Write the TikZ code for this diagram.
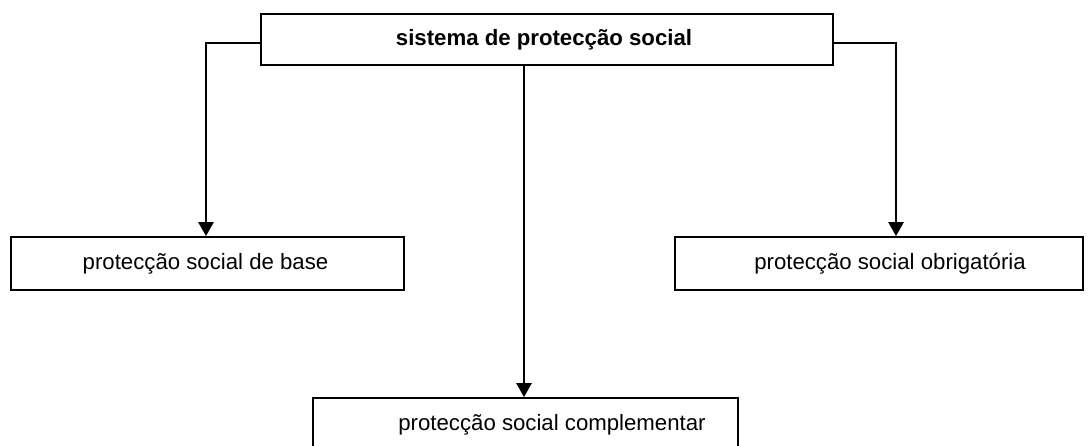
\documentclass[tikz,border=0pt]{standalone}
\usepackage{fontspec}
\setmainfont{Liberation Sans}
\usetikzlibrary{arrows.meta}
\begin{document}
\begin{tikzpicture}[x=1pt,y=-1pt,
  boxstyle/.style={draw=black,line width=1.7pt,rectangle,inner sep=0pt,fill=white},
  labelstyle/.style={inner sep=0pt,font=\fontsize{22.2}{26}\selectfont},
  conn/.style={draw=black,line width=2.4pt,-{Triangle[width=15pt,length=14pt]}}]
\useasboundingbox (0,0) rectangle (1089,446);
\begin{scope}
\clip (0,0) rectangle (1089,446);
\node[boxstyle,minimum width=572pt,minimum height=51pt] (top) at (547,39.5) {};
\node[boxstyle,minimum width=393pt,minimum height=53pt] (base) at (207.5,263.5) {};
\node[boxstyle,minimum width=408pt,minimum height=53pt] (obrig) at (879,263.5) {};
\node[boxstyle,minimum width=425pt,minimum height=54pt] (compl) at (525.5,425) {};
\end{scope}
\node[labelstyle,font=\fontsize{22.2}{26}\selectfont\bfseries] (ttop) at (544,40) {sistema de protecção social};
\node[labelstyle] (tbase) at (205.5,263.5) {protecção social de base};
\node[labelstyle] (tobrig) at (890,263.5) {protecção social obrigatória};
\node[labelstyle] (tcompl) at (552,425) {protecção social complementar};
\coordinate (lstart) at (261,43);
\coordinate (lcorner) at (206,43);
\coordinate (rstart) at (833,43);
\coordinate (rcorner) at (896,43);
\coordinate (mstart) at (524,65);
\draw[conn] (lstart) -- (lcorner) -- (lcorner |- base.north);
\draw[conn] (rstart) -- (rcorner) -- (rcorner |- obrig.north);
\draw[conn] (mstart) -- (mstart |- compl.north);
\end{tikzpicture}
\end{document}
